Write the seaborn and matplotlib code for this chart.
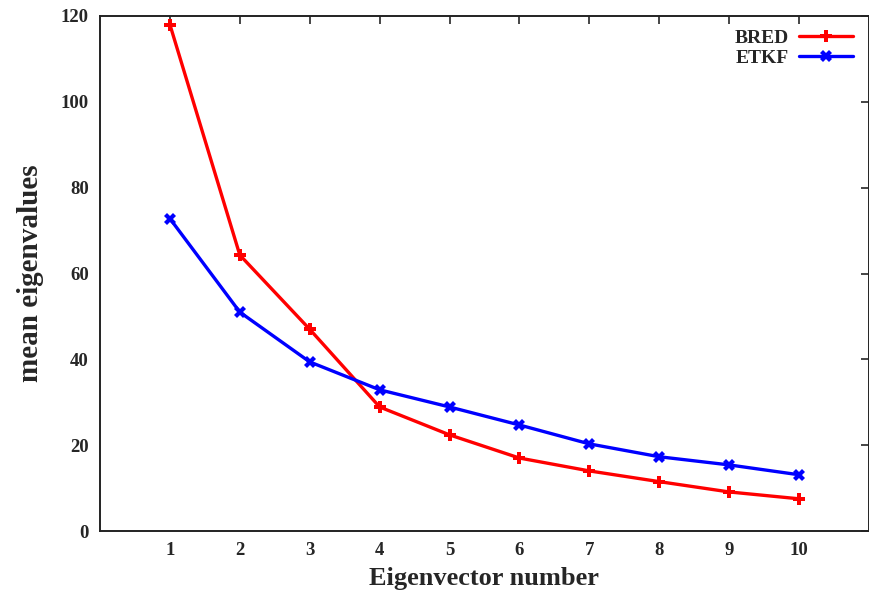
import matplotlib
matplotlib.use("Agg")
import matplotlib.pyplot as plt
import seaborn as sns
import pandas as pd

eigen_number = [1, 2, 3, 4, 5, 6, 7, 8, 9, 10]
bred = [118.0, 64.3, 47.0, 28.9, 22.4, 17.0, 14.0, 11.5, 9.1, 7.5]
etkf = [72.8, 51.0, 39.4, 32.9, 28.9, 24.7, 20.3, 17.3, 15.4, 13.1]
series_names = ["BRED", "ETKF"]
x_ticks = [1, 2, 3, 4, 5, 6, 7, 8, 9, 10]
y_ticks = [0, 20, 40, 60, 80, 100, 120]

df = pd.DataFrame({
    "x": eigen_number * 2,
    "y": bred + etkf,
    "series": [series_names[0]] * len(bred) + [series_names[1]] * len(etkf),
})

sns.set_style("white")
plt.rcParams["font.family"] = ["Liberation Serif", "DejaVu Serif"]
plt.rcParams["font.weight"] = "bold"

fig = plt.figure(figsize=(8.7, 5.99), dpi=100)
ax = fig.add_axes([100 / 870, 1 - 531 / 599, 769 / 870, 515 / 599])

sns.lineplot(data=df, x="x", y="y", hue="series", style="series",
             palette={"BRED": "#ff0000", "ETKF": "#0000ff"},
             markers={"BRED": "P", "ETKF": "X"}, dashes=False,
             linewidth=2.4, markersize=8, markeredgewidth=0, ax=ax)

ax.set_xlim(0, 11)
ax.set_ylim(0, 120)
ax.set_xticks(x_ticks)
ax.set_yticks(y_ticks)
ax.tick_params(direction="in", length=6, width=1.2, top=True, right=True,
               labelsize=13.5, pad=8)
for lbl in ax.get_xticklabels() + ax.get_yticklabels():
    lbl.set_fontweight("bold")
for s in ax.spines.values():
    s.set_linewidth(1.4)
    s.set_color("#222222")

ax.set_xlabel("Eigenvector number", fontsize=19, fontweight="bold", labelpad=6)
ax.set_ylabel("mean eigenvalues", fontsize=21, fontweight="bold", labelpad=12)

leg = ax.legend(loc="upper right", frameon=False, markerfirst=False,
                fontsize=14, handlelength=2.8, borderaxespad=0.3,
                labelspacing=0.1, handletextpad=0.5,
                bbox_to_anchor=(0.997, 1.0))
for t in leg.get_texts():
    t.set_fontweight("bold")

fig.savefig("out.png", dpi=100)
